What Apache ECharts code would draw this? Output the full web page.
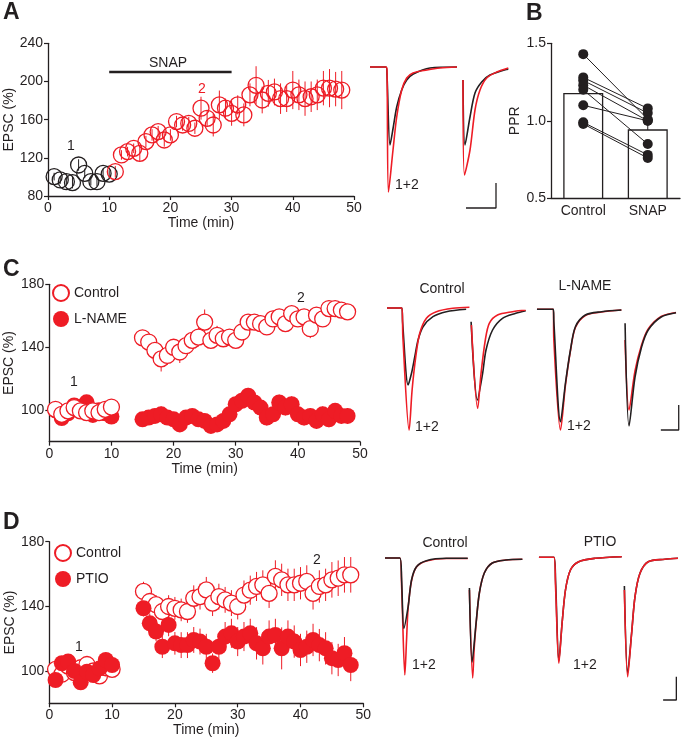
<!DOCTYPE html>
<html><head><meta charset="utf-8">
<script src="https://cdn.jsdelivr.net/npm/echarts@6/dist/echarts.min.js"></script>
<style>html,body{margin:0;padding:0;background:#fff}#c{width:681px;height:741px}</style>
</head><body><div id="c"></div><script>
// ---------- DATA ----------
// Panel A
const timeA1 = [1,2,3,4,5,6,7,8,9,10];
const epscA1 = [100.3,96.8,95,94,112.5,103.7,95,95,103.7,103];
const semA1  = [4,4,4,6,6,5,4,5,5,4];
const timeA2 = [11,12,13,14,15,16,17,18,19,20,21,22,23,24,25,26,27,28,29,30,31,32,33,34,35,36,37,38,39,40,41,42,43,44,45,46,47,48];
const epscA2 = [105.5,123,126.5,130,124.7,137,144,147.4,138.7,144,158,154.4,156,151,172,161.4,154.4,175.5,172,166.6,175.5,165,186,196,180.6,187.6,189,182,182,191,186,182,184,186,193,193,192,191];
const semA2  = [6,5,5,5,8,6,6,6,7,6,6,6,7,6,12,8,12,15,10,13,10,12,12,20,14,14,14,16,14,20,16,18,16,16,18,20,18,20];
const snapPeriod = [10,30];
const snapLevel = 210;
// Panel B
const pprCats = ['Control','SNAP'];
const pprMeans = [1.18,0.945];
const pprSem = [0.05,0.03];
const pprControl = [1.43,1.28,1.26,1.23,1.20,1.10,0.99,0.98];
const pprSnap    = [1.01,1.08,1.05,1.00,0.85,1.00,0.78,0.76];
// Panel C / D time
const timeEarly = [1,2,3,4,5,6,7,8,9,10];
const timeLate = [15,16,17,18,19,20,21,22,23,24,25,26,27,28,29,30,31,32,33,34,35,36,37,38,39,40,41,42,43,44,45,46,47,48];
// Panel C
const cCtrlEarly = [100.6,97.4,99.6,101.7,99.6,98.5,99.6,98.5,100.6,102];
const cCtrlLate = [146,143.3,138,132.6,134.8,140,137,141,144.4,146.5,156,144.4,147.6,145.4,146.5,144.4,149.7,156,156,155,152.9,158,159.3,155,161.4,158,159.3,151.8,160.4,158,164.6,164.6,163.6,162.5];
const cCtrlSemEarly = [3,3,3,3,3,3,3,3,3,3];
const cCtrlSemLate = [5,5,6,8,6,5,7,5,5,6,8,5,6,5,5,5,5,5,5,4,5,5,5,5,5,5,5,6,5,5,5,5,5,5];
const cLnEarly = [100,95,98,103,102,105,97,100,98,96];
const cLnLate = [94.2,95.3,96.4,97.4,95.3,94.2,91,95.3,96.4,94.2,93.2,90,91,93.2,97.4,103.8,106,109.2,104.9,101.7,95.3,97.4,104.9,101.7,103.8,97.4,95.3,96.4,93.2,97.4,94.2,99.6,96.4,96.4];
const cLnSemEarly = [3,3,3,3,3,3,3,3,3,3];
const cLnSemLate = [4,4,4,5,4,4,4,4,4,4,4,4,4,4,4,5,5,5,5,5,5,5,5,5,5,5,5,5,5,5,5,5,5,5];
// Panel D
const dCtrlEarly = [101,98,103,99,102,104,100,97,102,101];
const dCtrlLate = [149.2,143,141,136.8,139.9,138.8,137.8,136.8,145,146,150.2,142,146,144,142,139.9,147,150,152.3,153.3,148,158.5,156.4,153.3,153.3,154.3,155.4,148,152.3,153.3,156.4,157.4,159.5,159.5];
const dCtrlSemEarly = [4,4,4,4,4,4,4,4,4,4];
const dCtrlSemLate = [6,6,6,7,7,7,7,7,8,8,8,8,8,8,8,8,9,9,9,9,9,10,10,10,10,10,10,10,10,10,11,11,11,11];
const dPtEarly = [94.4,104.8,105.8,100,93,99.6,97.5,101.6,106.8,103.7];
const dPtLate = [138.8,129.5,124.4,115,128.5,117.1,116,116,119.2,118.2,115,104.8,115,121.3,123.3,118.2,121.3,123.3,117.1,114,121.3,122.3,114,121.3,118.2,113,115,119.2,116,114,107.9,106.8,111,103.7];
const dPtSemEarly = [4,4,4,4,4,4,4,4,4,4];
const dPtSemLate = [5,6,6,7,7,7,8,8,8,8,8,6,8,9,9,9,9,9,10,10,10,10,13,10,10,10,10,10,10,10,10,10,10,10];
const ticksCD = [100,140,180];
// Example traces (time units, amplitude units; baseline = 0)
const trA_red1 = [[4,0],[20,0],[21,-3],[22.5,-125],[27,-83],[30.7,-50],[35.7,-23],[40.7,-11],[47,-6],[61,-3],[74,-1],[91,0]];
const trA_blk1 = [[4,0],[20,0],[21,-8],[24,-78],[27.3,-60],[30.7,-40],[35.7,-23],[40.7,-13],[47.3,-7],[64,-1],[91,0]];
const trA_red2 = [[97,-13],[98.5,-108],[104,-83],[109,-43],[114,-23],[120.7,-11],[130.7,-5],[142.3,-1]];
const trA_blk2 = [[97,-13],[99,-78],[104,-50],[109,-26],[115.7,-15],[124,-8],[142.3,-2]];
const barA = [[100,-141],[130,-141],[130,-116]];
const trC_ctrlRed1 = [[4,1],[19,1],[20,-28],[26.3,-121],[29.3,-81],[33,-47.7],[37,-24.3],[43.7,-9.3],[53.7,-2.7],[70.3,0.7],[87,1.7]];
const trC_ctrlBlk1 = [[4,1],[19,1],[19.7,-12.7],[25.3,-76],[28.7,-64.3],[32,-47.7],[35.3,-31],[40.3,-17.7],[50.3,-7.7],[63.7,-2.7],[83.7,-0.3]];
const trC_ctrlRed2 = [[89,-16],[95.3,-99.3],[98.7,-64.3],[103,-31],[107,-14.3],[115.3,-6],[130.3,-2.7],[143.7,-1]];
const trC_ctrlBlk2 = [[88.7,-12.7],[95,-91],[100.3,-64.3],[103.7,-41],[110.3,-21],[120.3,-9.3],[133.7,-4.3],[143.7,-1.7]];
const trC_lnRed1 = [[155,-0.3],[171.5,-0.3],[172,-31],[178.7,-121],[183.7,-76],[188.7,-42],[193.7,-18.5],[203.7,-6.5],[220,-3],[240,-1]];
const trC_lnBlk1 = [[155,-0.3],[171.5,-0.3],[172,-12.7],[178.7,-112.7],[183.7,-74],[188.7,-41],[193.7,-17.7],[203.7,-6],[220,-2.7],[240,-1]];
const trC_lnRed2 = [[243.7,-31],[247.7,-101],[253.7,-62],[260.3,-36],[267,-20],[280,-7.5],[295,-3.5]];
const trC_lnBlk2 = [[243.7,-14.3],[247.7,-117],[253.7,-68],[260.3,-38],[267,-21],[280,-8],[295,-3.7]];
const barC = [[279.7,-121],[297.7,-121],[297.7,-96]];
const trD_ctrlRed1 = [[2,0],[17,0],[18.7,-27],[22,-117],[23.7,-82],[25.3,-50],[28.7,-23],[33.7,-9],[43.7,-3],[63.7,-0.5],[85.3,-0.5]];
const trD_ctrlBlk1 = [[2,0],[17,0],[18.7,-20.3],[21,-70.3],[25.3,-48.7],[28.7,-22],[33.7,-8.7],[43.7,-2.7],[63.7,-0.3],[85.3,-0.3]];
const trD_ctrlRed2 = [[87,-32],[90.3,-120],[91.7,-92],[93.7,-66],[97,-35],[102,-15],[110,-5],[123.7,-2],[140.3,-1.3]];
const trD_ctrlBlk2 = [[87,-30],[89.7,-104],[93.7,-65],[97,-35],[102,-15],[110,-5],[123.7,-2],[140.3,-1.3]];
const trD_ptRed1 = [[157,0.7],[172,0.7],[173.7,-28.7],[177,-105.3],[180.3,-65.3],[183.7,-32],[188.7,-12],[197,-3.7],[213.7,-0.3],[240.3,1.3]];
const trD_ptBlk1 = [[157,0.7],[172,0.7],[173.7,-22],[177,-103],[180.3,-65],[183.7,-32],[188.7,-12],[197,-3.7],[213.7,-0.3],[240.3,1.3]];
const trD_ptRed2 = [[243,-32],[246.3,-118.7],[250.3,-75.3],[253.7,-38.7],[258.7,-15.3],[267,-3.7],[283.7,-1.3],[297,-0.3]];
const trD_ptBlk2 = [[243,-28],[246.3,-115],[250.3,-75],[253.7,-38.7],[258.7,-15.3],[267,-3.7],[283.7,-1.3],[297,-0.3]];
const barD = [[282,-142],[295.3,-142],[295.3,-118.7]];

// ---------- STYLE / BUILD ----------
const RED = '#ee1c25', BLK = '#231f20', FONT = 'Liberation Sans', FS = 14;
const pts = (t, v) => t.map((x, i) => [x, v[i]]);
const errs = (t, v, e) => t.map((x, i) => [x, v[i] - e[i], v[i] + e[i]]);

function errSeries(idx, data, color) {
  return {
    type: 'custom', xAxisIndex: idx, yAxisIndex: idx, data, silent: true,
    encode: {x: 0, y: [1, 2]},
    renderItem: (p, api) => {
      const a = api.coord([api.value(0), api.value(1)]);
      const b = api.coord([api.value(0), api.value(2)]);
      return {type: 'line', shape: {x1: a[0], y1: a[1], x2: b[0], y2: b[1]}, style: {stroke: color, lineWidth: 1}};
    }
  };
}
function scat(idx, name, data, filled, color, fillColor) {
  return {
    type: 'scatter', name, xAxisIndex: idx, yAxisIndex: idx, data, symbol: 'circle', symbolSize: 16, silent: true,
    itemStyle: filled ? {color: color, opacity: 1} : {color: fillColor, borderColor: color, borderWidth: 1.3, opacity: 1}
  };
}
function trace(idx, data, color, w) {
  return {type: 'line', xAxisIndex: idx, yAxisIndex: idx, data, symbol: 'none', smooth: 0.3, silent: true,
    lineStyle: {color, width: w || 1.6}};
}
function scaleBar(idx, data) {
  return {type: 'line', xAxisIndex: idx, yAxisIndex: idx, data, symbol: 'none', silent: true,
    lineStyle: {color: BLK, width: 1.3}};
}
const axisCommon = {
  axisLine: {show: true, lineStyle: {color: BLK, width: 1.3}},
  axisTick: {show: true, length: 4, lineStyle: {color: BLK, width: 1.2}},
  axisLabel: {color: BLK, fontSize: FS, fontFamily: FONT, margin: 5},
  splitLine: {show: false},
  nameTextStyle: {color: BLK, fontSize: FS, fontFamily: FONT}
};
function timeAxis(idx, gap) {
  return Object.assign({}, axisCommon, {gridIndex: idx, type: 'value', min: 0, max: 50, interval: 10,
    name: 'Time (min)', nameLocation: 'middle', nameGap: gap});
}
function hidden(idx, min, max) {
  return {gridIndex: idx, type: 'value', min, max, show: false, splitLine: {show: false}};
}

const grids = [
  {left: 48, top: 43.3, width: 306, height: 152.7},
  {left: 366, top: 55, width: 150, height: 160},
  {left: 551, top: 43.3, width: 129, height: 155},
  {left: 49.3, top: 284.3, width: 310.7, height: 157.4},
  {left: 383, top: 290, width: 300, height: 150},
  {left: 49.3, top: 541.7, width: 314, height: 161.6},
  {left: 383, top: 540, width: 300, height: 170}
];

const xAxes = [
  timeAxis(0, 19),
  hidden(1, 0, 150),
  Object.assign({}, axisCommon, {gridIndex: 2, type: 'category', data: pprCats, axisTick: {show: false},
    axisLabel: {color: BLK, fontSize: FS, fontFamily: FONT, margin: 6}}),
  timeAxis(3, 20),
  hidden(4, 0, 300),
  timeAxis(5, 20),
  hidden(6, 0, 300)
];
const yAxes = [
  Object.assign({}, axisCommon, {gridIndex: 0, type: 'value', min: 80, max: 240, interval: 40,
    name: 'EPSC (%)', nameLocation: 'middle', nameGap: 32}),
  hidden(1, -148, 12),
  Object.assign({}, axisCommon, {gridIndex: 2, type: 'value', min: 0.5, max: 1.5, interval: 0.5,
    name: 'PPR', nameLocation: 'middle', nameGap: 16,
    axisLabel: {color: BLK, fontSize: FS, fontFamily: FONT, margin: 5, formatter: v => v.toFixed(1)}}),
  Object.assign({}, axisCommon, {gridIndex: 3, type: 'value', min: 80, max: 180,
    name: 'EPSC (%)', nameLocation: 'middle', nameGap: 33,
    axisTick: {show: true, length: 4, lineStyle: {color: BLK, width: 1.2}, customValues: ticksCD},
    axisLabel: {color: BLK, fontSize: FS, fontFamily: FONT, margin: 5, customValues: ticksCD}}),
  hidden(4, -131, 19),
  Object.assign({}, axisCommon, {gridIndex: 5, type: 'value', min: 80, max: 180,
    name: 'EPSC (%)', nameLocation: 'middle', nameGap: 32,
    axisTick: {show: true, length: 4, lineStyle: {color: BLK, width: 1.2}, customValues: ticksCD},
    axisLabel: {color: BLK, fontSize: FS, fontFamily: FONT, margin: 5, customValues: ticksCD}}),
  hidden(6, -152, 18)
];

const series = [];
// A
series.push(errSeries(0, errs(timeA1, epscA1, semA1), BLK));
series.push(errSeries(0, errs(timeA2, epscA2, semA2), RED));
series.push(scat(0, 'Baseline', pts(timeA1, epscA1), false, BLK, 'rgba(255,255,255,0)'));
series.push(scat(0, 'SNAP drug', pts(timeA2, epscA2), false, RED, 'rgba(255,255,255,0)'));
series.push({type: 'line', xAxisIndex: 0, yAxisIndex: 0, symbol: 'none', silent: true,
  data: snapPeriod.map(t => [t, snapLevel]), lineStyle: {color: BLK, width: 2.5}});
// A traces
series.push(trace(1, trA_blk1, BLK), trace(1, trA_red1, RED), trace(1, trA_blk2, BLK), trace(1, trA_red2, RED), scaleBar(1, barA));
// B
series.push({type: 'bar', xAxisIndex: 2, yAxisIndex: 2, data: pprMeans, barWidth: 40, silent: true,
  itemStyle: {color: '#fff', borderColor: BLK, borderWidth: 1.3}});
series.push(errSeries(2, pprMeans.map((m, i) => [i, m - pprSem[i], m + pprSem[i]]), BLK));
pprControl.forEach((c, i) => {
  series.push({type: 'line', xAxisIndex: 2, yAxisIndex: 2, symbol: 'none', silent: true,
    data: [[0, c], [1, pprSnap[i]]], lineStyle: {color: BLK, width: 1}});
});
series.push({type: 'scatter', xAxisIndex: 2, yAxisIndex: 2, symbolSize: 10, silent: true,
  data: pprControl.map(v => [0, v]).concat(pprSnap.map(v => [1, v])), itemStyle: {color: BLK, opacity: 1}});
// C
series.push(errSeries(3, errs(timeEarly, cLnEarly, cLnSemEarly).concat(errs(timeLate, cLnLate, cLnSemLate)), RED));
series.push(errSeries(3, errs(timeEarly, cCtrlEarly, cCtrlSemEarly).concat(errs(timeLate, cCtrlLate, cCtrlSemLate)), RED));
series.push(scat(3, 'L-NAME', pts(timeEarly, cLnEarly).concat(pts(timeLate, cLnLate)), true, RED));
series.push(scat(3, 'Control', pts(timeEarly, cCtrlEarly).concat(pts(timeLate, cCtrlLate)), false, RED, '#fff'));
// C traces
series.push(trace(4, trC_ctrlBlk1, BLK), trace(4, trC_ctrlRed1, RED), trace(4, trC_ctrlBlk2, BLK), trace(4, trC_ctrlRed2, RED));
series.push(trace(4, trC_lnRed1, RED), trace(4, trC_lnBlk1, BLK), trace(4, trC_lnRed2, RED), trace(4, trC_lnBlk2, BLK), scaleBar(4, barC));
// D
series.push(errSeries(5, errs(timeEarly, dCtrlEarly, dCtrlSemEarly).concat(errs(timeLate, dCtrlLate, dCtrlSemLate)), RED));
series.push(errSeries(5, errs(timeEarly, dPtEarly, dPtSemEarly).concat(errs(timeLate, dPtLate, dPtSemLate)), RED));
series.push(scat(5, 'Control', pts(timeEarly, dCtrlEarly).concat(pts(timeLate, dCtrlLate)), false, RED, '#fff'));
series.push(scat(5, 'PTIO', pts(timeEarly, dPtEarly).concat(pts(timeLate, dPtLate)), true, RED));
// D traces
series.push(trace(6, trD_ctrlRed1, RED), trace(6, trD_ctrlBlk1, BLK), trace(6, trD_ctrlRed2, RED), trace(6, trD_ctrlBlk2, BLK));
series.push(trace(6, trD_ptBlk1, BLK), trace(6, trD_ptRed1, RED), trace(6, trD_ptBlk2, BLK), trace(6, trD_ptRed2, RED), scaleBar(6, barD));

function txt(x, y, s, opts) {
  opts = opts || {};
  return {type: 'text', x, y, silent: true, style: {text: s, fill: opts.color || BLK,
    font: (opts.bold ? 'bold ' : '') + (opts.size || FS) + 'px "' + FONT + '"',
    textAlign: opts.align || 'center', textVerticalAlign: 'middle'}};
}
const graphic = [
  txt(3, 13, 'A', {bold: true, size: 23, align: 'left'}),
  txt(526, 14, 'B', {bold: true, size: 23, align: 'left'}),
  txt(3, 270, 'C', {bold: true, size: 23, align: 'left'}),
  txt(3, 523, 'D', {bold: true, size: 23, align: 'left'}),
  txt(168, 63, 'SNAP'),
  txt(71, 146, '1'),
  txt(202, 89, '2', {color: RED}),
  txt(395, 185, '1+2', {align: 'left'}),
  txt(442, 289, 'Control'),
  txt(585, 286, 'L-NAME'),
  txt(74, 382, '1'),
  txt(301, 298, '2'),
  txt(415, 427, '1+2', {align: 'left'}),
  txt(567, 426, '1+2', {align: 'left'}),
  txt(445, 543, 'Control'),
  txt(600, 542, 'PTIO'),
  txt(79, 647, '1'),
  txt(317, 560, '2'),
  txt(412, 665, '1+2', {align: 'left'}),
  txt(573, 665, '1+2', {align: 'left'})
];

const legendBase = {orient: 'vertical', itemWidth: 16, itemHeight: 16, itemGap: 9, selectedMode: false, padding: 0,
  textStyle: {color: BLK, fontSize: FS, fontFamily: FONT}};
const option = {
  animation: false,
  backgroundColor: '#fff',
  textStyle: {fontFamily: FONT},
  grid: grids, xAxis: xAxes, yAxis: yAxes, series, graphic,
  legend: [
    Object.assign({}, legendBase, {left: 52, top: 284, data: [{name: 'Control', icon: 'circle'}, {name: 'L-NAME', icon: 'circle'}]}),
    Object.assign({}, legendBase, {left: 54, top: 544, data: [{name: 'Control', icon: 'circle'}, {name: 'PTIO', icon: 'circle'}]})
  ]
};
const chart = echarts.init(document.getElementById('c'), null, {renderer: 'canvas'});
chart.setOption(option);
</script></body></html>
